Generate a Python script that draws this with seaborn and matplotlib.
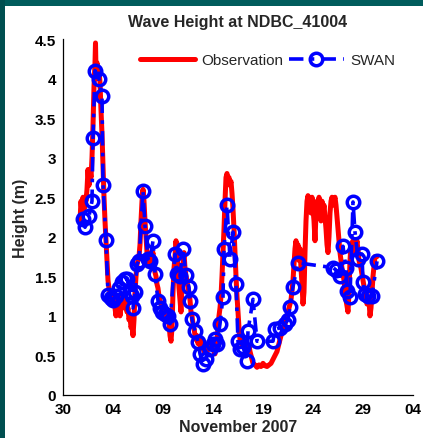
import matplotlib
matplotlib.use("Agg")
import matplotlib.pyplot as plt
from matplotlib.patches import Rectangle
import seaborn as sns
import pandas as pd

# ---------------- data (day offset from 30 Oct 2007 00:00) ----------------
obs_day = [1.7, 1.8, 1.9, 2.0, 2.1, 2.2, 2.3, 2.4, 2.5, 2.6, 2.7, 2.8, 2.9, 3.0, 3.1, 3.2, 3.25, 3.3,
           3.4, 3.5, 3.6, 3.7, 3.8, 3.9, 4.0, 4.1, 4.2, 4.3, 4.4, 4.5, 4.6,
           4.7, 4.8, 4.9, 5.0, 5.1, 5.2, 5.3, 5.4, 5.5, 5.6, 5.7, 5.8, 5.9, 6.0, 6.1, 6.2, 6.3, 6.4,
           6.5, 6.6, 6.7, 6.8, 6.9, 7.0, 7.1, 7.2, 7.3, 7.4, 7.5, 7.6, 7.7, 7.8, 7.9, 8.0, 8.1, 8.2,
           8.3, 8.4, 8.5, 8.6, 8.7, 8.8, 8.9, 9.0, 9.1, 9.2, 9.3, 9.4, 9.5, 9.6, 9.7, 9.8, 9.9, 10.0,
           10.1, 10.2, 10.3, 10.4, 10.5, 10.6, 10.7, 10.8, 10.9, 11.0, 11.1, 11.2, 11.3, 11.4, 11.5,
           11.6, 11.7, 11.8, 11.9, 12.0, 12.1, 12.2, 12.3, 12.4, 12.5, 12.6, 12.7, 12.8, 12.9, 13.0,
           13.1, 13.2, 13.3, 13.4, 13.5, 13.6, 13.7, 13.8, 13.9, 14.0, 14.1, 14.2, 14.3, 14.4, 14.5,
           14.6, 14.7, 14.8, 14.9, 15.0, 15.1, 15.2, 15.3, 15.4, 15.5, 15.6, 15.7, 15.8, 15.9, 16.0,
           16.1, 16.2, 16.3, 16.4, 16.5, 16.6, 16.7, 16.8, 16.9, 17.0, 17.1, 17.2, 17.3, 17.4, 17.5,
           17.6, 17.7, 17.8, 17.9, 18.0, 18.1, 18.2, 18.3, 18.4, 18.5, 18.6, 18.7, 18.8, 18.9, 19.0,
           19.2, 19.4, 19.6, 19.8, 20.0, 20.2, 20.4, 20.6, 20.8, 21.0, 21.2, 21.4, 21.6, 21.8, 22.0,
           22.2, 22.4, 22.6, 22.8, 23.0, 23.2, 23.3, 23.4, 23.5, 23.6, 23.7, 23.8, 23.9, 24.0, 24.1,
           24.2, 24.3, 24.4, 24.5, 24.6, 24.7, 24.8, 24.9, 25.0, 25.1, 25.2, 25.3, 25.4, 25.5, 25.6,
           25.7, 25.8, 25.9, 26.0, 26.1, 26.2, 26.3, 26.4, 26.5, 26.6, 26.7, 26.8, 26.9, 27.0, 27.1,
           27.2, 27.3, 27.5, 27.7, 27.9, 28.1, 28.3, 28.5, 28.6, 28.7, 28.8, 29.0, 29.2, 29.4, 29.6,
           29.8, 30.0, 30.2, 30.4, 30.6, 30.7, 30.8, 31.0, 31.2, 31.4]
obs_hs = [2.2, 2.45, 2.3, 2.5, 2.35, 2.5, 2.45, 2.6, 2.85, 2.65, 2.85, 2.75, 3.0, 3.4, 3.9, 4.2, 4.45, 4.1,
          4.2, 4.0, 4.1, 3.95, 3.6, 3.3, 2.9, 2.5, 2.2, 1.95, 1.7, 1.45, 1.35,
          1.3, 1.25, 1.2, 1.15, 1.25, 1.1, 1.0, 1.15, 1.05, 1.2, 1.0, 1.15, 1.25, 1.1, 1.2, 1.3, 1.15, 1.05,
          1.1, 0.95, 1.0, 0.85, 0.9, 0.75, 0.95, 1.3, 1.5, 1.65, 1.7, 1.75, 1.9, 2.2, 2.45, 2.6, 2.45, 2.2,
          2.0, 1.8, 1.7, 1.65, 1.7, 1.8, 1.75, 1.8, 1.65, 1.55, 1.5, 1.4, 1.35, 1.25, 1.2, 1.15, 1.1, 1.05,
          1.05, 0.95, 1.0, 0.95, 1.0, 0.9, 0.75, 0.68, 0.85, 1.3, 1.6, 1.75, 1.95, 1.8, 1.6,
          1.35, 1.2, 1.05, 1.4, 1.65, 1.8, 1.6, 1.5, 1.45, 1.35, 1.3, 1.2, 1.05, 1.0, 0.9,
          0.85, 0.75, 0.7, 0.75, 0.65, 0.7, 0.62, 0.72, 0.6, 0.65, 0.55, 0.6, 0.55, 0.62, 0.57,
          0.65, 0.6, 0.7, 0.6, 0.68, 0.55, 0.52, 0.6, 0.7, 0.85, 1.0, 1.1, 1.25, 1.5, 1.8,
          2.1, 2.45, 2.75, 2.8, 2.7, 2.75, 2.65, 2.7, 2.55, 2.35, 2.1, 1.8, 1.5, 1.25, 1.05,
          0.85, 0.7, 0.65, 0.7, 0.62, 0.68, 0.6, 0.65, 0.62, 0.58, 0.62, 0.55, 0.5, 0.45, 0.4,
          0.38, 0.35, 0.38, 0.36, 0.4, 0.37, 0.36, 0.38, 0.4, 0.45, 0.5, 0.55, 0.65, 0.75, 0.8,
          0.9, 1.0, 1.1, 1.2, 1.45, 1.85, 1.95, 1.8, 1.9, 1.7, 1.85, 1.6, 1.4, 1.15, 1.3,
          1.8, 2.2, 2.45, 2.52, 2.35, 2.45, 2.3, 2.5, 2.35, 2.2, 1.95, 2.3, 2.45, 2.35, 2.5,
          2.4, 2.2, 2.45, 2.3, 2.4, 2.25, 2.1, 1.9, 1.8, 2.0, 2.3, 2.45, 2.5, 2.4, 2.45,
          2.5, 2.4, 2.1, 1.8, 1.6, 1.45, 1.2, 1.05, 1.3, 1.7, 1.9, 1.95, 1.8, 1.95, 1.7,
          1.6, 1.45, 1.3, 1.15, 1.2, 1.0, 1.1, 1.5, 1.75, 1.75]

swan_day = [2.0, 2.2, 2.6, 2.9, 3.0, 3.2, 3.6, 3.9, 4.0, 4.3, 4.5, 4.8, 5.0, 5.3, 5.6, 5.9, 6.2, 6.4,
            6.7, 6.9, 7.0, 7.2, 7.4, 7.6, 8.0, 8.2, 8.5, 8.7, 9.0, 9.2, 9.5, 9.7, 9.9, 10.2, 10.5,
            10.7, 11.2, 11.4, 11.7, 12.0, 12.3, 12.6, 12.7, 12.9, 13.2, 13.5, 13.7, 14.0, 14.3, 14.7,
            15.0, 15.2, 15.4, 15.7, 16.0, 16.1, 16.4, 16.7, 17.0, 17.3, 17.5, 17.7, 18.0, 18.4, 18.5,
            19.0, 19.4, 21.0, 21.2, 21.7, 22.2, 22.5, 22.7, 23.0, 23.5, 27.0, 27.3, 27.7, 28.0, 28.3,
            28.4, 28.7, 29.0, 29.2, 29.5, 29.9, 30.0, 30.2, 30.5, 30.9, 31.4]
swan_hs = [2.22, 2.12, 2.26, 2.45, 3.25, 4.10, 4.00, 3.78, 2.66, 1.96, 1.27, 1.22, 1.20, 1.25, 1.35, 1.43, 1.46, 1.47,
           1.30, 1.25, 1.10, 1.30, 1.65, 1.70, 2.58, 2.14, 1.72, 1.69, 1.95, 1.53, 1.19, 1.10, 1.05, 1.02, 1.00,
           0.90, 1.78, 1.53, 1.50, 1.85, 1.52, 1.36, 1.19, 0.96, 0.81, 0.67, 0.52, 0.39, 0.46, 0.58,
           0.65, 0.71, 0.64, 0.90, 1.24, 1.85, 2.40, 1.72, 2.06, 1.40, 0.68, 0.58, 0.61, 0.43, 0.81,
           1.21, 0.68, 0.68, 0.83, 0.85, 0.90, 0.95, 1.11, 1.37, 1.67, 1.61, 1.58, 1.50, 1.88, 1.60,
           1.31, 1.24, 2.44, 2.06, 1.72, 1.78, 1.43, 1.28, 1.25, 1.25, 1.69]

tick_days = [0, 5, 10, 15, 20, 25, 30, 35]
tick_labels = ["30", "04", "09", "14", "19", "24", "29", "04"]
y_ticks = [0, 0.5, 1, 1.5, 2, 2.5, 3, 3.5, 4, 4.5]
y_labels = ["0", "0.5", "1", "1.5", "2", "2.5", "3", "3.5", "4", "4.5"]

obs_df = pd.DataFrame({"day": obs_day, "hs": obs_hs})
swan_df = pd.DataFrame({"day": swan_day, "hs": swan_hs})

# ---------------- figure ----------------
sns.set_style("white")
plt.rcParams["font.family"] = ["Liberation Sans", "DejaVu Sans"]

W, H = 423, 439
fig = plt.figure(figsize=(W / 100, H / 100), dpi=100, facecolor="white")
teal = "#005c5c"
fig.patches.append(Rectangle((0, 1 - 7 / H), 1, 7 / H, transform=fig.transFigure,
                             facecolor=teal, edgecolor="none"))
fig.patches.append(Rectangle((0, 0), 5 / W, 1, transform=fig.transFigure,
                             facecolor="#004f50", edgecolor="none"))
ax = fig.add_axes([63 / W, 1 - 396 / H, 350 / W, 356 / H])
ax.set_facecolor("white")

sns.lineplot(data=obs_df, x="day", y="hs", ax=ax, color="#ff0000", linewidth=3.6,
             label="Observation", estimator=None, sort=False)
sns.lineplot(data=swan_df, x="day", y="hs", ax=ax, color="#0000ff", linewidth=2.6,
             linestyle=(0, (4, 2.0, 1, 2.0)), marker="o", markersize=9, markerfacecolor="none",
             markeredgecolor="#0000ff", markeredgewidth=2.5,
             label="SWAN", estimator=None, sort=False)

ax.set_xlim(0, 35)
ax.set_ylim(0, 4.5)
ax.set_xticks(tick_days)
ax.set_xticklabels(tick_labels, fontsize=11, fontweight="bold")
ax.set_yticks(y_ticks)
ax.set_yticklabels(y_labels, fontsize=11, fontweight="bold")
ax.tick_params(direction="in", length=4, width=0.8, colors="black", pad=5)

for s in ["top", "right"]:
    ax.spines[s].set_visible(False)
for s in ["left", "bottom"]:
    ax.spines[s].set_color("black")
    ax.spines[s].set_linewidth(0.9)

ax.set_title("Wave Height at NDBC_41004", fontsize=11.5, fontweight="bold", pad=9)
ax.set_xlabel("November 2007", fontsize=11.5, fontweight="bold", labelpad=2)
ax.set_ylabel("Height (m)", fontsize=11.5, fontweight="bold", labelpad=5)

leg = ax.legend(loc="center", bbox_to_anchor=(0.584, 0.941), ncol=2, frameon=False,
                handlelength=3.6, handletextpad=0.4, columnspacing=0.4, fontsize=11)

fig.savefig("out.png", dpi=100, facecolor=fig.get_facecolor())
